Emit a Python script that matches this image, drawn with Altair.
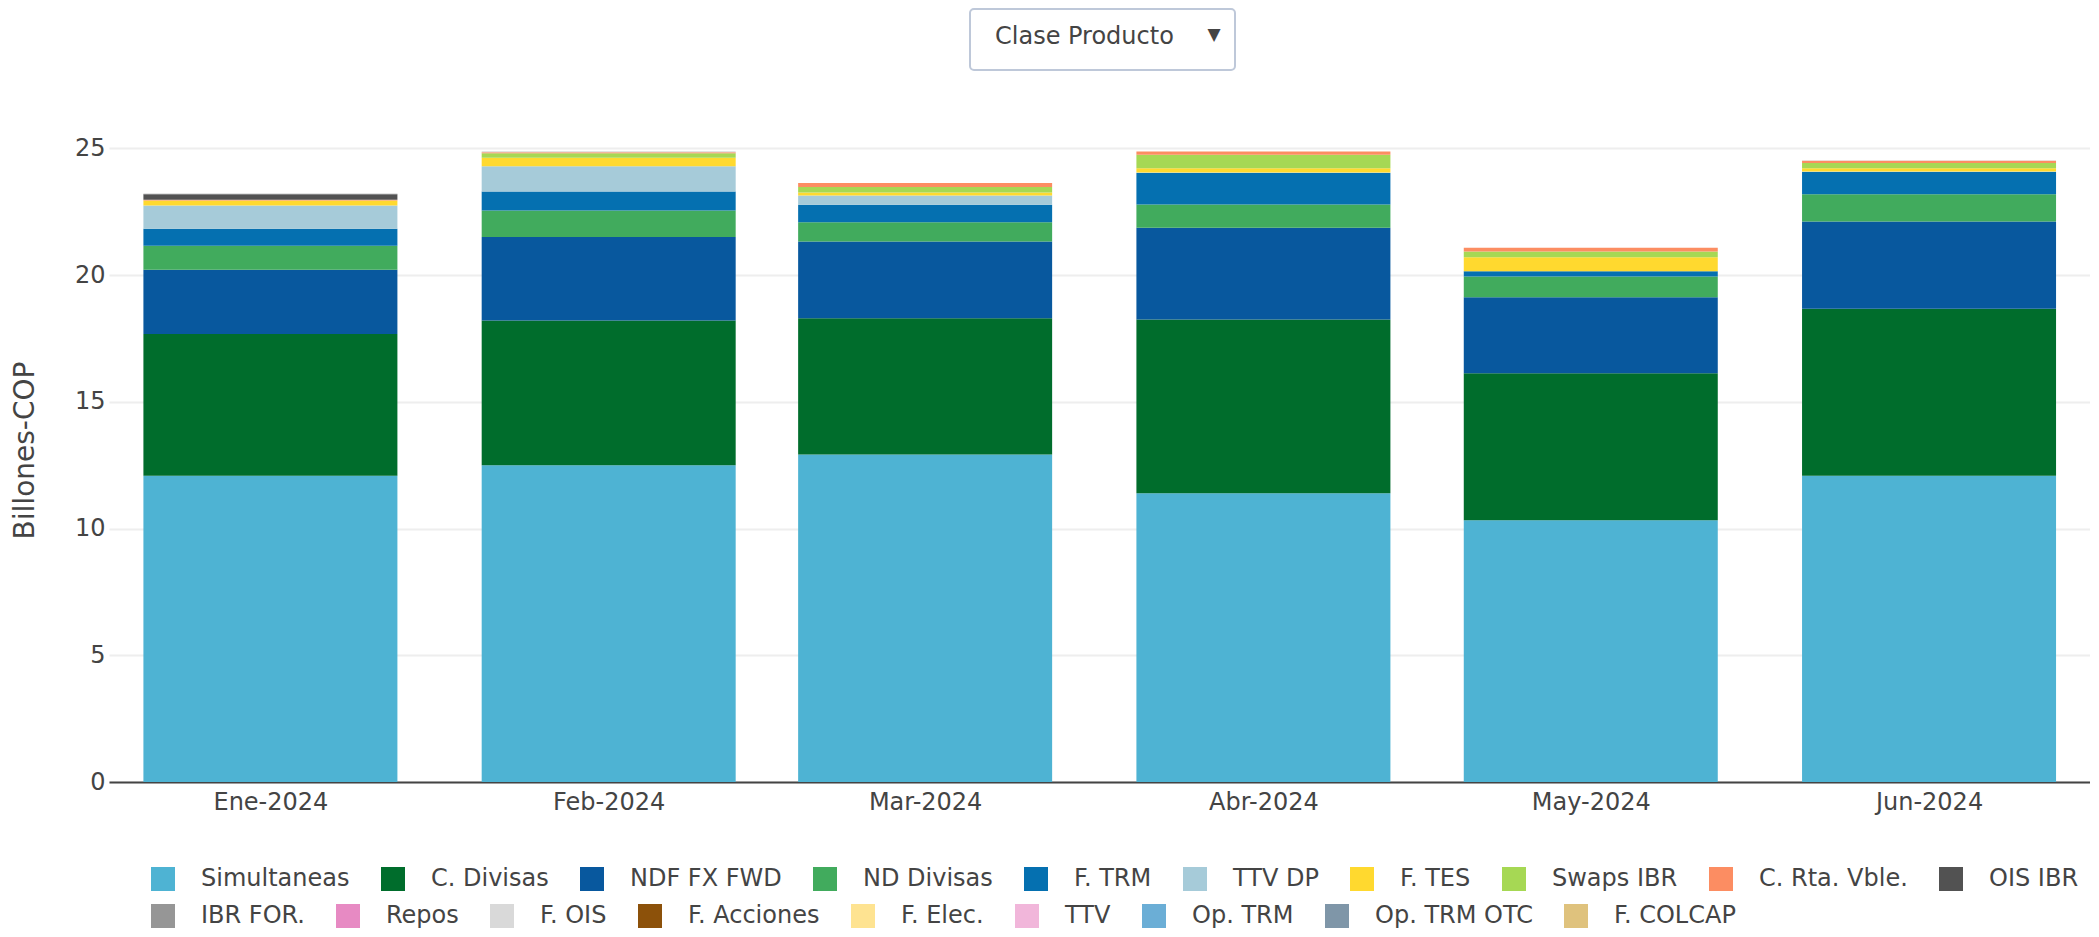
import altair as alt
import pandas as pd

# ---- data ----
fechas = ["2024-01-01", "2024-02-01", "2024-03-01", "2024-04-01", "2024-05-01", "2024-06-01"]
etiquetas_mes = ["Ene-2024", "Feb-2024", "Mar-2024", "Abr-2024", "May-2024", "Jun-2024"]

productos = ["Simultaneas", "C. Divisas", "NDF FX FWD", "ND Divisas", "F. TRM", "TTV DP",
             "F. TES", "Swaps IBR", "C. Rta. Vble.", "OIS IBR", "IBR FOR.", "Repos",
             "F. OIS", "F. Acciones", "F. Elec.", "TTV", "Op. TRM", "Op. TRM OTC", "F. COLCAP"]
colores = ["#4eb3d3", "#006d2c", "#08589e", "#41ab5d", "#0570b0", "#a6cbd9",
           "#ffd92f", "#a6d854", "#fc8d62", "#525252", "#969696", "#e78ac3",
           "#d9d9d9", "#8c510a", "#fee391", "#f1b6da", "#6baed6", "#7f96a8", "#dfc27d"]

simultaneas = [12.08, 12.50, 12.92, 11.39, 10.33, 12.08]
c_divisas   = [5.60, 5.71, 5.38, 6.86, 5.80, 6.59]
ndf_fx_fwd  = [2.53, 3.29, 3.03, 3.62, 3.00, 3.45]
nd_divisas  = [0.95, 1.05, 0.76, 0.92, 0.82, 1.07]
f_trm       = [0.67, 0.75, 0.69, 1.24, 0.20, 0.88]
ttv_dp      = [0.92, 1.00, 0.36, 0.02, 0.00, 0.02]
f_tes       = [0.19, 0.33, 0.12, 0.17, 0.56, 0.13]
swaps_ibr   = [0.00, 0.18, 0.22, 0.53, 0.22, 0.20]
c_rta_vble  = [0.03, 0.04, 0.16, 0.13, 0.15, 0.09]
ois_ibr     = [0.22, 0.00, 0.00, 0.00, 0.00, 0.00]
ibr_for     = [0.02, 0.00, 0.00, 0.00, 0.00, 0.00]
repos       = [0.00, 0.00, 0.00, 0.00, 0.00, 0.00]
f_ois       = [0.00, 0.04, 0.00, 0.00, 0.00, 0.02]
f_acciones  = [0.00, 0.00, 0.00, 0.00, 0.00, 0.00]
f_elec      = [0.00, 0.00, 0.00, 0.00, 0.00, 0.00]
ttv         = [0.00, 0.00, 0.00, 0.00, 0.00, 0.00]
op_trm      = [0.00, 0.00, 0.00, 0.00, 0.00, 0.00]
op_trm_otc  = [0.00, 0.00, 0.00, 0.00, 0.00, 0.00]
f_colcap    = [0.00, 0.00, 0.00, 0.00, 0.00, 0.00]

series = [simultaneas, c_divisas, ndf_fx_fwd, nd_divisas, f_trm, ttv_dp, f_tes, swaps_ibr,
          c_rta_vble, ois_ibr, ibr_for, repos, f_ois, f_acciones, f_elec, ttv, op_trm,
          op_trm_otc, f_colcap]

rows = []
for i, (p, vals) in enumerate(zip(productos, series)):
    for f, v in zip(fechas, vals):
        rows.append({"fecha": f, "producto": p, "valor": v, "orden": i})
df = pd.DataFrame(rows)

# legend rows as in the reference (10 items, then 9)
fila1 = productos[:10]
fila2 = productos[10:]
col1 = colores[:10]
col2 = colores[10:]

label_map = "{" + ",".join(f"'{f}':'{l}'" for f, l in zip(fechas, etiquetas_mes)) + "}"
label_expr = label_map + "[utcFormat(datum.value, '%Y-%m-%d')]"

TEXT = "#444444"
FONT = "DejaVu Sans"

x_enc = alt.X("fecha:T",
              scale=alt.Scale(type="utc", domain=[
                  alt.DateTime(year=2023, month=12, date=17, hours=16, utc=True),
                  alt.DateTime(year=2024, month=6, date=15, hours=7, utc=True)]),
              axis=alt.Axis(title=None, tickCount={"interval": "month", "step": 1},
                            labelExpr=label_expr, ticks=False, tickSize=0, grid=False,
                            domainColor="#444444", domainWidth=2,
                            labelFontSize=24, labelColor=TEXT, labelPadding=8,
                            labelFont=FONT))
y_enc = alt.Y("v0:Q",
              scale=alt.Scale(domain=[0, 26.2], nice=False, zero=True),
              axis=alt.Axis(title="Billones-COP", values=[0, 5, 10, 15, 20, 25],
                            domain=False, ticks=False, tickSize=0, grid=True,
                            gridColor="#eeeeee", gridWidth=2,
                            labelFontSize=24, labelColor=TEXT, labelPadding=4, labelFont=FONT,
                            titleFontSize=28, titleFontWeight="normal", titleColor=TEXT,
                            titleFont=FONT, titleAngle=270, titleX=-84, titleY=332,
                            titleAlign="center", titleBaseline="middle"))


def legend_props(y):
    return dict(title=None, orient="none", legendX=42, legendY=y,
                direction="horizontal", columnPadding=31, padding=0,
                symbolType="square", symbolSize=576, symbolStrokeWidth=0,
                labelFontSize=24, labelColor=TEXT, labelFont=FONT, labelOffset=26,
                labelLimit=400)


base = alt.Chart(df).transform_stack(
    stack="valor", groupby=["fecha"],
    sort=[alt.SortField("orden", order="ascending")], as_=["v0", "v1"])

bars1 = base.transform_filter(
    alt.FieldOneOfPredicate(field="producto", oneOf=fila1)
).mark_bar(width=254).encode(
    x=x_enc, y=y_enc, y2="v1:Q",
    color=alt.Color("producto:N", scale=alt.Scale(domain=fila1, range=col1),
                    legend=alt.Legend(columns=len(fila1), **legend_props(749))),
)
bars2 = base.transform_filter(
    alt.FieldOneOfPredicate(field="producto", oneOf=fila2)
).mark_bar(width=254).encode(
    x=x_enc, y=y_enc, y2="v1:Q",
    color=alt.Color("producto:N", scale=alt.Scale(domain=fila2, range=col2),
                    legend=alt.Legend(columns=len(fila2), **legend_props(786))),
)

dummy = pd.DataFrame({"k": [0]})
box = alt.Chart(dummy).mark_rect(fill="white", stroke="#bec8d9", strokeWidth=2,
                                 cornerRadius=4).encode(
    x=alt.value(861), x2=alt.value(1126), y=alt.value(-109), y2=alt.value(-48))
btn_text = alt.Chart(dummy).mark_text(text="Clase Producto", font=FONT, fontSize=24,
                                      color=TEXT, align="left", baseline="middle").encode(
    x=alt.value(886), y=alt.value(-81))
btn_arrow = alt.Chart(dummy).mark_text(text="▼", font=FONT, fontSize=17,
                                       color=TEXT, align="center", baseline="middle").encode(
    x=alt.value(1105), y=alt.value(-83))

chart = alt.layer(bars1, bars2, box, btn_text, btn_arrow).resolve_scale(
    color="independent"
).properties(
    width=1981, height=664,
    padding={"left": 101, "top": 110, "right": 0, "bottom": 147},
    autosize=alt.AutoSizeParams(type="none"),
).configure(font=FONT).configure_view(stroke=None)

chart.save("out.html", embed_options={"renderer": "svg", "actions": False})
